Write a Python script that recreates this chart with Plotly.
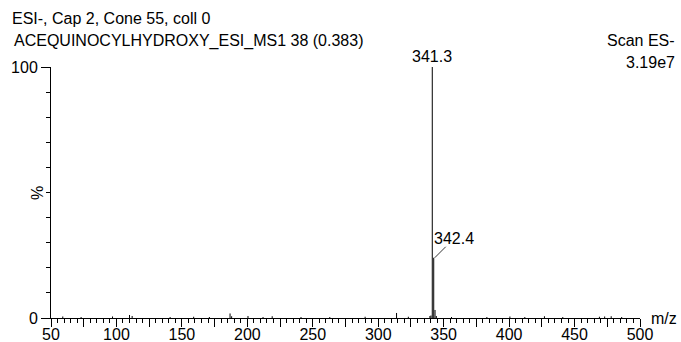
import plotly.graph_objects as go

# Centroided ESI- spectrum: m/z and relative intensity (%)
mz = [59.0, 73.0, 97.0, 110.0, 112.0, 141.0, 159.0, 171.0, 186.8, 188.0,
      200.5, 212.0, 219.0, 241.0, 263.0, 290.0, 314.0, 323.0, 339.5, 340.3,
      341.3, 342.4, 343.4, 344.4, 356.0, 383.0, 400.6, 412.0, 427.0, 441.0,
      469.0, 473.0, 478.0, 486.0]
intensity = [0.6, 0.4, 0.6, 1.2, 0.8, 0.4, 0.5, 0.4, 1.8, 0.7,
             0.8, 0.4, 0.7, 0.4, 0.4, 0.5, 2.0, 0.5, 0.8, 1.0,
             100.0, 24.0, 3.2, 0.8, 0.4, 0.4, 0.6, 0.4, 0.7, 0.4,
             0.5, 0.6, 0.7, 0.4]

# Labelled peaks
labelled_mz = [341.3, 342.4]
labelled_int = [100.0, 24.0]

header_line1 = "ESI-, Cap 2, Cone 55, coll 0"
header_line2 = "ACEQUINOCYLHYDROXY_ESI_MS1 38 (0.383)"
scan_text = "Scan ES-"
bpi_text = "3.19e7"

x_major = list(range(50, 501, 25))
x_labels = [str(v) if v % 50 == 0 else "" for v in x_major]

FONT = "Liberation Sans, Arial, sans-serif"
FS = 16

# Build stick segments (each peak is a vertical line from 0 to its intensity)
sx, sy = [], []
for m, i in zip(mz, intensity):
    sx += [m, m, None]
    sy += [0, i, None]

fig = go.Figure()
fig.add_trace(go.Scatter(x=sx, y=sy, mode="lines",
                         line=dict(color="black", width=1),
                         hoverinfo="skip", showlegend=False))

annotations = [
    dict(text=header_line1, xref="paper", yref="paper", x=-0.069, y=1.195,
         xanchor="left", yanchor="middle", showarrow=False),
    dict(text=header_line2, xref="paper", yref="paper", x=-0.066, y=1.104,
         xanchor="left", yanchor="middle", showarrow=False),
    dict(text=scan_text, xref="paper", yref="paper", x=1.063, y=1.104,
         xanchor="right", yanchor="middle", showarrow=False),
    dict(text=bpi_text, xref="paper", yref="paper", x=1.063, y=1.016,
         xanchor="right", yanchor="middle", showarrow=False),
    dict(text="m/z", xref="paper", yref="paper", x=1.015, y=0.0,
         xanchor="left", yanchor="middle", showarrow=False),
    dict(text="%", xref="paper", yref="paper", x=-0.023, y=0.5,
         xanchor="center", yanchor="middle", textangle=-90, showarrow=False),
    dict(text=f"{labelled_mz[0]:.1f}", xref="x", yref="y",
         x=labelled_mz[0], y=labelled_int[0], xanchor="center",
         yanchor="bottom", yshift=0, showarrow=False),
    dict(text=f"{labelled_mz[1]:.1f}", xref="x", yref="y",
         x=labelled_mz[1], y=labelled_int[1], xanchor="left",
         yanchor="bottom", xshift=-2, yshift=9, showarrow=False),
]

# Leader line from the 342.4 peak top to its label
shapes = [dict(type="line", xref="x", yref="y",
               xsizemode="pixel", ysizemode="pixel",
               xanchor=labelled_mz[1], yanchor=labelled_int[1],
               x0=1, y0=0, x1=12, y1=11,
               line=dict(color="black", width=0.8))]

fig.update_layout(
    width=681, height=342,
    margin=dict(l=51, r=41, t=67, b=24, pad=0),
    paper_bgcolor="white", plot_bgcolor="white",
    font=dict(family=FONT, size=FS, color="black"),
    annotations=annotations, shapes=shapes,
    xaxis=dict(range=[50, 500], showgrid=False, zeroline=False,
               automargin=False,
               showline=True, linecolor="black", linewidth=1,
               tickmode="array", tickvals=x_major, ticktext=x_labels,
               ticks="outside", ticklen=8, tickwidth=1, tickcolor="black",
               ticklabelstandoff=-6,
               minor=dict(dtick=5, tick0=50, ticks="outside", ticklen=4,
                          tickwidth=1, tickcolor="black", showgrid=False),
               tickfont=dict(size=FS), fixedrange=True),
    yaxis=dict(range=[0, 100], showgrid=False, zeroline=False,
               automargin=False,
               showline=True, linecolor="black", linewidth=1,
               tickmode="array", tickvals=[0, 100], ticktext=["0", "100"],
               ticks="outside", ticklen=9, tickwidth=1, tickcolor="black",
               minor=dict(dtick=10, tick0=0, ticks="outside", ticklen=4,
                          tickwidth=1, tickcolor="black", showgrid=False),
               tickfont=dict(size=FS), fixedrange=True),
)

fig.write_html("out.html")
